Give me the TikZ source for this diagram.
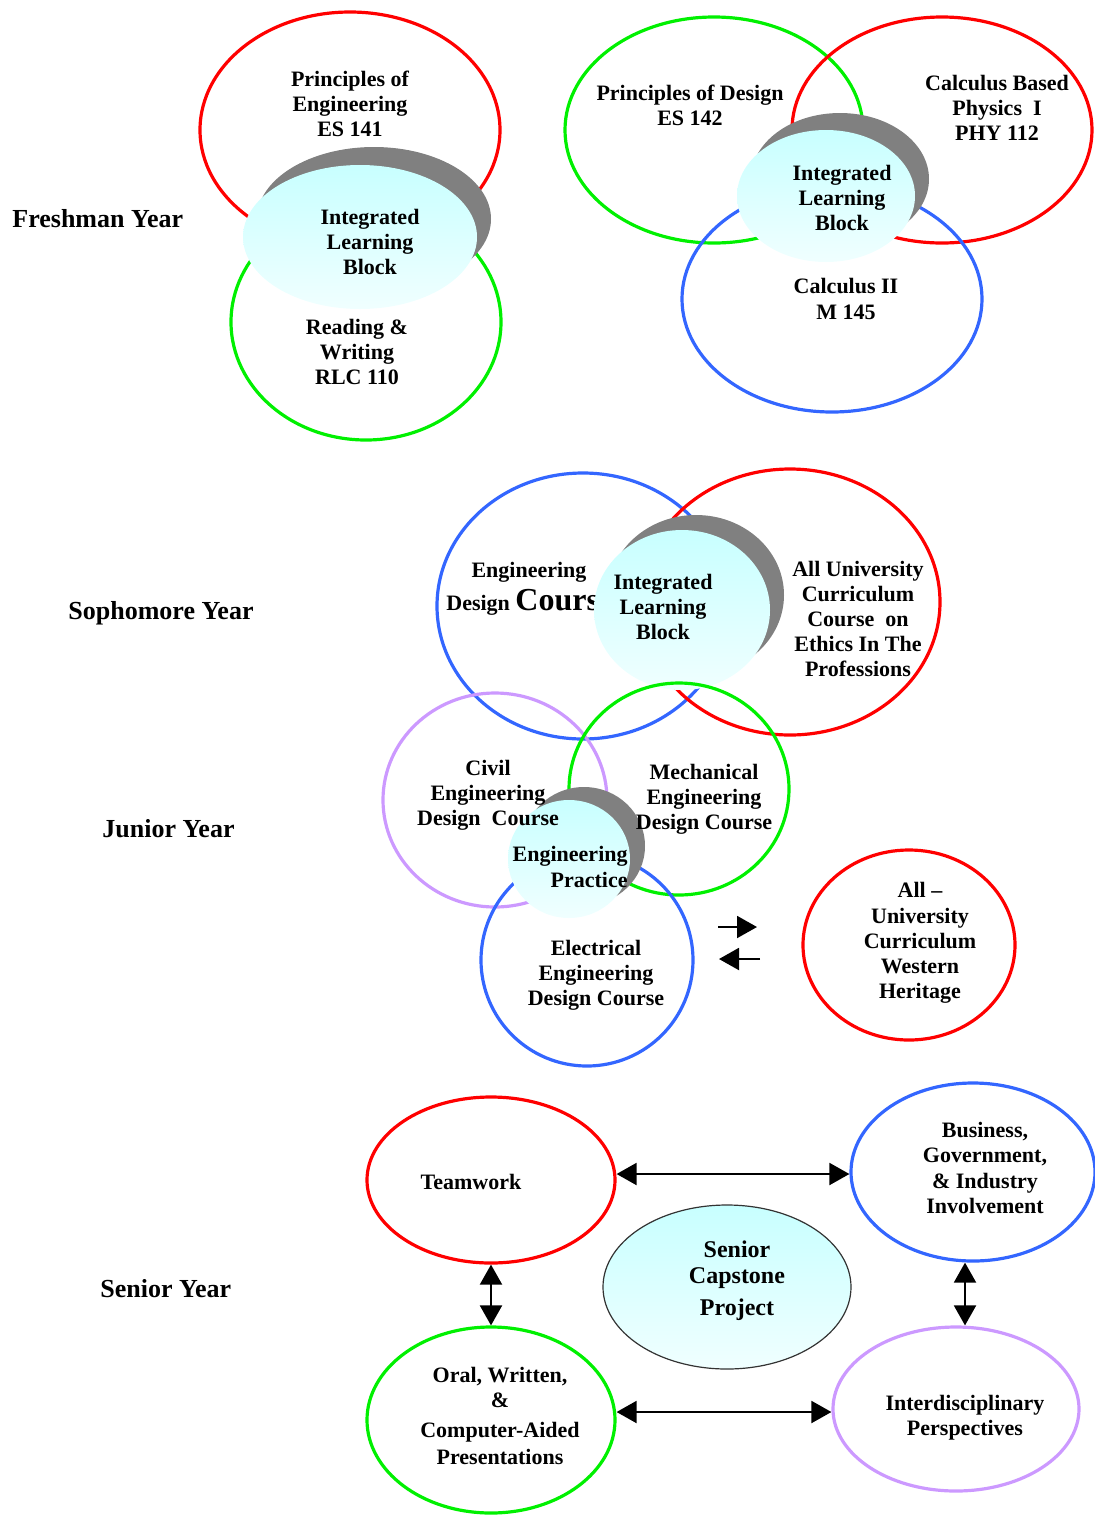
\documentclass[tikz,border=0pt]{standalone}
\usepackage{fontspec}
\setmainfont{Liberation Serif}
\usetikzlibrary{shapes.geometric,arrows.meta}
\definecolor{ringred}{RGB}{255, 0, 0}
\definecolor{ringgreen}{RGB}{0, 240, 0}
\definecolor{ringblue}{RGB}{51, 102, 255}
\definecolor{ringviolet}{RGB}{204, 153, 255}
\definecolor{shadowgray}{RGB}{128, 128, 128}
\definecolor{blocktop}{RGB}{200, 255, 255}
\definecolor{blockbottom}{RGB}{240, 255, 255}
\tikzset{
    ring/.style={line width=1.6pt},
    redring/.style={ring, draw=ringred},
    greenring/.style={ring, draw=ringgreen},
    bluering/.style={ring, draw=ringblue},
    violetring/.style={ring, draw=ringviolet},
    ringnode/.style={ellipse, ring, inner sep=0pt},
    blockshadow/.style={fill=shadowgray},
    blockfill/.style={top color=blocktop, bottom color=blockbottom},
    lbl/.style={font=\bfseries\fontsize{11}{12.6}\selectfont, align=center, inner sep=0pt},
    yearlbl/.style={font=\bfseries\fontsize{13}{15}\selectfont, anchor=west, inner sep=0pt},
    arr/.style={-{Triangle[length=10pt,width=11pt]}, line width=1pt},
    dblarr/.style={{Triangle[length=10pt,width=11pt]}-{Triangle[length=10pt,width=11pt]}, line width=1pt}
}

\begin{document}
\begin{tikzpicture}[x=0.5pt, y=-0.5pt]
    \useasboundingbox (0,0) rectangle (1095,1522);

    % Freshman, first block
    \draw[redring] (350,130) ellipse (150 and 118);
    \draw[greenring] (366,322) ellipse (135 and 118);
    \fill[blockshadow] (374,219) ellipse (117 and 72);
    \shade[blockfill] (360,237) ellipse (117 and 72);
    \node[lbl] (pe) at (350,104) {Principles of\\Engineering\\ES 141};
    \node[lbl] (ilba) at (370,242) {Integrated\\Learning\\Block};
    \node[lbl] (rw) at (357,352) {Reading \&\\Writing\\RLC 110};
    \node[yearlbl] (freshman) at (12,219) {Freshman Year};

    % Freshman, second block
    \draw[greenring] (714,130) ellipse (149 and 113);
    \draw[redring] (942,130) ellipse (150 and 113);
    \draw[bluering] (832,299) ellipse (150 and 113);
    \fill[blockshadow] (840,179) ellipse (89 and 66);
    \shade[blockfill] (826,196) ellipse (89 and 66);
    \node[lbl] (pd) at (690,105) {Principles of Design\\ES 142};
    \node[lbl] (phys) at (997,108) {Calculus Based\\Physics\ \ I\\PHY 112};
    \node[lbl] (ilbb) at (842,198) {Integrated\\Learning\\Block};
    \node[lbl] (calc) at (846,299) {Calculus II\\M 145};

    % Sophomore
    \draw[bluering] (583,606) ellipse (146 and 133);
    \draw[redring] (790,602) ellipse (150 and 133);
    \node[lbl] (edc) at (529,572) {Engineering};
    \node[lbl, anchor=base west] (edcb) at (446,610) {Design {\fontsize{16}{16}\selectfont Cours}};
    \fill[blockshadow] (696,595) ellipse (88 and 80);
    \shade[blockfill] (682,610) ellipse (88 and 80);
    \node[lbl] (ilbc) at (663,607) {Integrated\\Learning\\Block};
    \node[lbl] (ethics) at (858,619) {All University\\Curriculum\\Course\ \ on\\Ethics In The\\Professions};
    \node[yearlbl] (sophomore) at (68,613) {Sophomore Year};

    % Junior
    \draw[violetring] (495,800) ellipse (112 and 107);
    \draw[greenring] (679,789) ellipse (110 and 106);
    \draw[bluering] (587,960) ellipse (106 and 106);
    \fill[blockshadow] (584,846) ellipse (61 and 59);
    \shade[blockfill] (569,859) ellipse (61 and 59);
    \node[lbl] (civil) at (488,795) {Civil\\Engineering\\Design\ \ Course};
    \node[lbl] (mech) at (704,799) {Mechanical\\Engineering\\Design Course};
    \node[lbl, align=right, anchor=east] (prac) at (628,867) {Engineering\\Practice};
    \node[lbl] (elec) at (596,975) {Electrical\\Engineering\\Design Course};
    \draw[redring] (909,945) ellipse (106 and 95);
    \node[lbl] (heritage) at (920,943) {All --\\University\\Curriculum\\Western\\Heritage};
    \coordinate (fwda) at (718,927);
    \coordinate (fwdb) at (757,927);
    \coordinate (backa) at (760,959);
    \coordinate (backb) at (719,959);
    \draw[arr] (fwda) -- (fwdb);
    \draw[arr] (backa) -- (backb);
    \node[yearlbl] (junior) at (102,829) {Junior Year};

    % Senior
    \node[ringnode, draw=ringred, minimum width=124pt, minimum height=83pt] (team) at (491,1180) {};
    \node[ringnode, draw=ringblue, minimum width=122pt, minimum height=89pt] (biz) at (973,1172) {};
    \node[ringnode, draw=ringgreen, minimum width=124pt, minimum height=93pt] (oral) at (491,1420) {};
    \node[ringnode, draw=ringviolet, minimum width=123pt, minimum height=82pt] (interd) at (956,1409) {};
    \node[ellipse, blockfill, draw=black!80, line width=0.6pt, minimum width=124pt, minimum height=82pt] (capstone) at (727,1287) {};
    \node[lbl] (teamtxt) at (471,1182) {Teamwork};
    \node[lbl] (biztxt) at (985,1168) {Business,\\Government,\\\& Industry\\Involvement};
    \node[lbl] (oraltxt) at (500,1416) {Oral, Written,\\\&\\[2pt]Computer-Aided\\[1pt]Presentations};
    \node[lbl] (interdtxt) at (965,1418) {Interdisciplinary\\Perspectives};
    \node[lbl, font=\bfseries\fontsize{12}{13}\selectfont] (captxt) at (737,1281) {Senior\\Capstone\\[3pt]Project};
    \draw[dblarr] ([yshift=3pt]team.east) -- ([yshift=3pt]team.east -| biz.west);
    \draw[dblarr] (team.south) -- (team.south |- oral.north);
    \draw[dblarr] ([xshift=-4pt]biz.south) -- ([xshift=-4pt]biz.south |- interd.north);
    \draw[dblarr] ([yshift=4pt]oral.east) -- ([yshift=4pt]oral.east -| interd.west);
    \node[yearlbl] (senior) at (100,1289) {Senior Year};
\end{tikzpicture}
\end{document}
